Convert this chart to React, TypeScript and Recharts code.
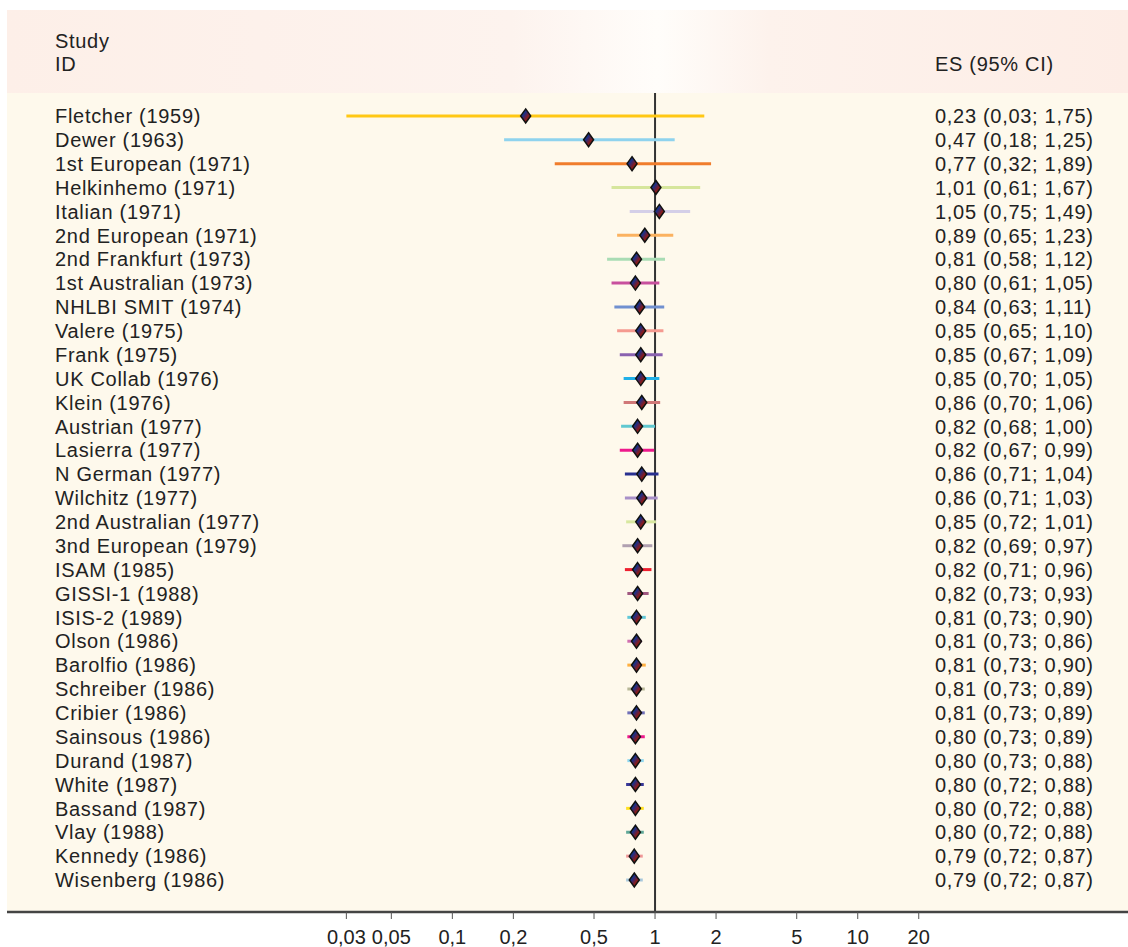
import { ReferenceLine, Scatter, ScatterChart, XAxis, YAxis } from "recharts";

// Forest plot: effect size with 95% CI per study, log x axis
const STUDIES = [
  "Fletcher (1959)", "Dewer (1963)", "1st European (1971)", "Helkinhemo (1971)", "Italian (1971)",
  "2nd European (1971)", "2nd Frankfurt (1973)", "1st Australian (1973)", "NHLBI SMIT (1974)", "Valere (1975)",
  "Frank (1975)", "UK Collab (1976)", "Klein (1976)", "Austrian (1977)", "Lasierra (1977)",
  "N German (1977)", "Wilchitz (1977)", "2nd Australian (1977)", "3nd European (1979)", "ISAM (1985)",
  "GISSI-1 (1988)", "ISIS-2 (1989)", "Olson (1986)", "Barolfio (1986)", "Schreiber (1986)",
  "Cribier (1986)", "Sainsous (1986)", "Durand (1987)", "White (1987)", "Bassand (1987)",
  "Vlay (1988)", "Kennedy (1986)", "Wisenberg (1986)",
];
const ES = [
  0.23, 0.47, 0.77, 1.01, 1.05, 0.89, 0.81, 0.8, 0.84, 0.85, 0.85, 0.85, 0.86, 0.82, 0.82, 0.86, 0.86,
  0.85, 0.82, 0.82, 0.82, 0.81, 0.81, 0.81, 0.81, 0.81, 0.8, 0.8, 0.8, 0.8, 0.8, 0.79, 0.79,
];
const LOW = [
  0.03, 0.18, 0.32, 0.61, 0.75, 0.65, 0.58, 0.61, 0.63, 0.65, 0.67, 0.7, 0.7, 0.68, 0.67, 0.71, 0.71,
  0.72, 0.69, 0.71, 0.73, 0.73, 0.73, 0.73, 0.73, 0.73, 0.73, 0.73, 0.72, 0.72, 0.72, 0.72, 0.72,
];
const HIGH = [
  1.75, 1.25, 1.89, 1.67, 1.49, 1.23, 1.12, 1.05, 1.11, 1.1, 1.09, 1.05, 1.06, 1.0, 0.99, 1.04, 1.03,
  1.01, 0.97, 0.96, 0.93, 0.9, 0.86, 0.9, 0.89, 0.89, 0.89, 0.88, 0.88, 0.88, 0.88, 0.87, 0.87,
];
const LINE_COLORS = [
  "#ffc814", "#8fd3ee", "#f07d2c", "#d6e69c", "#d4cfe8", "#fbb260", "#a9dcb4", "#c8509e", "#7090d0",
  "#f59a90", "#8a62b0", "#20b0e8", "#d07878", "#60c8d0", "#ee1a8c", "#283090", "#a890c8", "#d8e8a0",
  "#b0a0b0", "#ee2030", "#a05880", "#60c8d8", "#d070b0", "#ffb040", "#b8b898", "#7070b8", "#ee1a8c",
  "#90d8f0", "#383898", "#ffe020", "#60a898", "#f09898", "#a8c8dc",
];
const X_TICKS = [0.03, 0.05, 0.1, 0.2, 0.5, 1, 2, 5, 10, 20];

const FONT = '"Liberation Sans", Arial, sans-serif';
const fmt = (v: number) => v.toFixed(2).replace(".", ",");

const rows = STUDIES.map((name, i) => ({ idx: i, name, es: ES[i], lo: LOW[i], hi: HIGH[i] }));

function Diamond(props: any) {
  const { cx, cy } = props;
  if (cx == null || cy == null) return null;
  return (
    <path
      d={`M${cx},${cy - 7} L${cx + 5},${cy} L${cx},${cy + 7} L${cx - 5},${cy} Z`}
      fill="url(#diamondFill)"
      stroke="#111"
      strokeWidth={1.5}
    />
  );
}

// study name on the left, "ES (lo; hi)" on the right, at the row's y
function RowLabel(props: any) {
  const { cy, payload } = props;
  if (cy == null || !payload) return null;
  return (
    <g fontFamily={FONT} fontSize={20} letterSpacing={0.7}>
      <text x={55} y={cy} dy="0.36em" fill="#222">{payload.name}</text>
      <text x={935} y={cy} dy="0.36em" fill="#222">
        {`${fmt(payload.es)} (${fmt(payload.lo)}; ${fmt(payload.hi)})`}
      </text>
    </g>
  );
}

export default function App() {
  return (
    <div style={{ position: "absolute", left: 0, top: 0, width: 1128, height: 947, background: "#fff" }}>
      <div
        style={{
          position: "absolute", left: 7, top: 10, width: 1121, height: 83,
          background: "linear-gradient(to right, #fdefe8 0%, #fdf3ee 45%, #fffdfa 58%, #fdf2ec 68%, #fdede6 100%)",
        }}
      />
      <div style={{ position: "absolute", left: 7, top: 93, width: 1121, height: 819, background: "#fef9ec" }} />
      <div style={{ position: "absolute", left: 55, top: 30, fontFamily: FONT, fontSize: 20, lineHeight: "23px", color: "#222", letterSpacing: 0.7 }}>
        Study<br />ID
      </div>
      <div style={{ position: "absolute", left: 935, top: 53, fontFamily: FONT, fontSize: 20, lineHeight: "23px", color: "#222", letterSpacing: 0.7 }}>
        ES (95% CI)
      </div>
      <div style={{ position: "absolute", left: 0, top: 0 }}>
        <ScatterChart width={1128} height={947} margin={{ top: 93, right: 0, bottom: 0, left: 7 }}>
          <defs>
            <linearGradient id="diamondFill" x1="0" y1="0" x2="1" y2="1">
              <stop offset="0%" stopColor="#146a22" />
              <stop offset="35%" stopColor="#1a2f8a" />
              <stop offset="65%" stopColor="#8a1a1a" />
              <stop offset="100%" stopColor="#145a2a" />
            </linearGradient>
          </defs>
          <XAxis
            type="number"
            dataKey="es"
            scale="log"
            domain={[0.000635, 215.5]}
            allowDataOverflow
            ticks={X_TICKS}
            interval={0}
            tickFormatter={(v: number) => String(v).replace(".", ",")}
            height={35}
            axisLine={{ stroke: "#444", strokeWidth: 2.5 }}
            tickLine={{ stroke: "#555", strokeWidth: 1 }}
            tickSize={7}
            tickMargin={11}
            tick={{ fill: "#222", fontSize: 20, fontFamily: FONT }}
          />
          <YAxis type="number" dataKey="idx" reversed domain={[-0.96, 33.34]} allowDataOverflow hide />
          <ReferenceLine x={1} stroke="#333" strokeWidth={2} />
          {rows.map((r) => (
            <ReferenceLine
              key={r.name}
              segment={[{ x: r.lo, y: r.idx }, { x: r.hi, y: r.idx }]}
              stroke={LINE_COLORS[r.idx]}
              strokeWidth={3}
            />
          ))}
          <Scatter data={rows} shape={<RowLabel />} isAnimationActive={false} />
          <Scatter data={rows} shape={<Diamond />} isAnimationActive={false} />
        </ScatterChart>
      </div>
    </div>
  );
}
